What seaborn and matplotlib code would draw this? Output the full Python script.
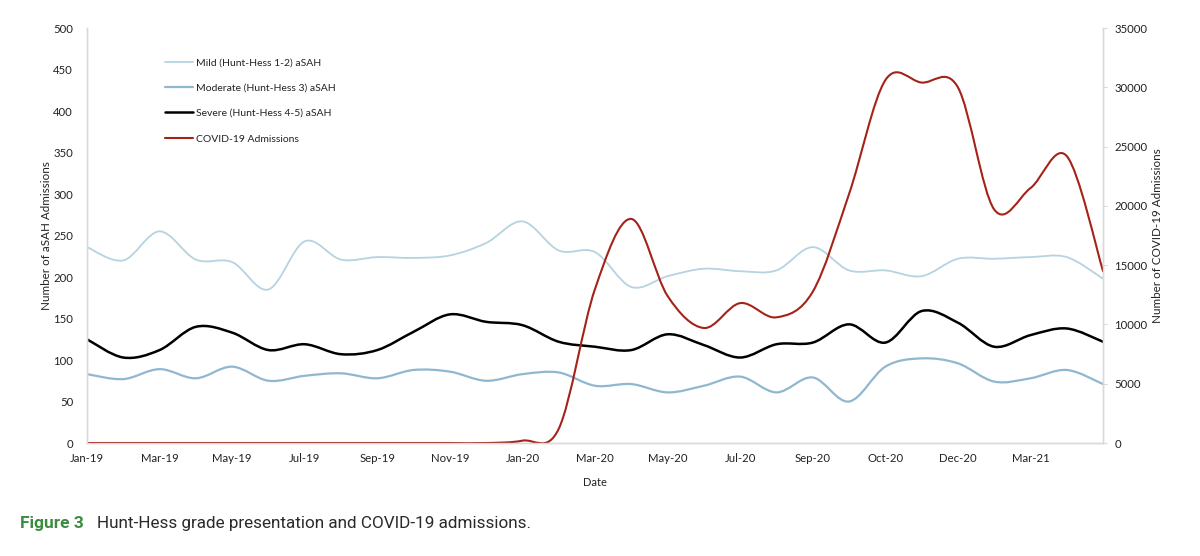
import matplotlib
matplotlib.use("Agg")
import matplotlib.pyplot as plt
import seaborn as sns
from matplotlib.path import Path
from matplotlib.patches import PathPatch
from matplotlib.lines import Line2D

# Monthly values (Jan-19 .. end of series)
tick_labels = ["Jan-19", "Mar-19", "May-19", "Jul-19", "Sep-19", "Nov-19", "Jan-20",
               "Mar-20", "May-20", "Jul-20", "Sep-20", "Oct-20", "Dec-20", "Mar-21"]

mild = [236, 220, 255, 221, 218, 185, 243, 221, 224, 223, 226, 241, 267, 232, 230,
        188, 201, 210, 207, 208, 236, 208, 208, 201, 222, 222, 224, 224, 198]
moderate = [83, 77, 89, 78, 92, 75, 81, 84, 78, 88, 86, 75, 83, 85, 69,
            71, 61, 69, 80, 61, 79, 50, 92, 102, 96, 74, 78, 88, 71]
severe = [125, 103, 112, 140, 133, 112, 119, 107, 112, 134, 155, 146, 142, 122, 116,
          112, 131, 118, 103, 119, 121, 143, 121, 159, 145, 116, 130, 138, 122]
covid = [0, 0, 0, 0, 0, 0, 0, 0, 0, 0, 0, 0, 200, 1200, 13000,
         18900, 12400, 9700, 11800, 10600, 12760, 21000, 30600, 30400, 30000, 19700, 21500, 24200, 14500]

labels = ["Mild (Hunt-Hess 1-2) aSAH", "Moderate (Hunt-Hess 3) aSAH",
          "Severe (Hunt-Hess 4-5) aSAH", "COVID-19 Admissions"]
colors = ["#b5d3e1", "#8fb8d0", "#000000", "#a52219"]
widths = [1.3, 1.6, 1.8, 1.5]


def smooth_path(ys):
    # Excel style smoothed line: cubic bezier through each point
    xs = list(range(len(ys)))
    n = len(ys)
    verts = [(xs[0], ys[0])]
    codes = [Path.MOVETO]
    for i in range(n - 1):
        a = i - 1 if i > 0 else i
        d = i + 2 if i + 2 < n else i + 1
        c1 = (xs[i] + (xs[i + 1] - xs[a]) / 6, ys[i] + (ys[i + 1] - ys[a]) / 6)
        c2 = (xs[i + 1] - (xs[d] - xs[i]) / 6, ys[i + 1] - (ys[d] - ys[i]) / 6)
        verts += [c1, c2, (xs[i + 1], ys[i + 1])]
        codes += [Path.CURVE4] * 3
    return Path(verts, codes)


sns.set_theme(style="white")
plt.rcParams["font.family"] = ["Lato", "DejaVu Sans"]

fig = plt.figure(figsize=(12, 5.56), dpi=100)
ax = fig.add_axes([0.0725, 0.2032, 0.8467, 0.7464])
ax2 = ax.twinx()

series = [mild, moderate, severe]
for vals, c, w in zip(series, colors[:3], widths[:3]):
    ax.add_patch(PathPatch(smooth_path(vals), fill=False, edgecolor=c, lw=w, capstyle="round"))
ax2.add_patch(PathPatch(smooth_path(covid), fill=False, edgecolor=colors[3], lw=widths[3], capstyle="round"))

n = len(mild)
ax.set_xlim(0, n - 1)
ax.set_ylim(0, 500)
ax2.set_ylim(0, 35000)
ax.set_yticks(range(0, 501, 50))
ax2.set_yticks(range(0, 35001, 5000))
ax.set_xticks(range(0, 2 * len(tick_labels), 2))
ax.set_xticklabels(tick_labels)

for a in (ax, ax2):
    for s in a.spines.values():
        s.set_color("#d9d9d9")
        s.set_linewidth(1.0)
    a.spines["top"].set_visible(False)
    a.grid(False)

ax.tick_params(axis="x", length=0, pad=7, labelsize=8.2, colors="#222222")
ax.tick_params(axis="y", length=0, pad=10, labelsize=8.2, colors="#222222")
ax2.tick_params(axis="y", length=3, width=0.8, color="#d9d9d9", pad=5, labelsize=8.2,
                labelcolor="#222222")

ax.set_xlabel("Date", fontsize=8, color="#222222")
ax.xaxis.set_label_coords(0.5, -0.082)
ax.set_ylabel("Number of aSAH Admissions", fontsize=8.4, color="#222222")
ax.yaxis.set_label_coords(-0.034, 0.5)
ax2.set_ylabel("Number of COVID-19 Admissions", fontsize=8.4, color="#222222")
ax2.yaxis.set_label_coords(1.048, 0.5)

handles = [Line2D([0], [0], color=c, lw=w) for c, w in zip(colors, widths)]
ax2.legend(handles, labels, loc="upper left", bbox_to_anchor=(0.0768, 0.928),
           frameon=False, fontsize=7.5, handlelength=2.7, handletextpad=0.25,
           labelspacing=1.55, borderpad=0, borderaxespad=0, labelcolor="#222222")

fig.text(0.017, 0.058, "Figure 3", fontsize=12.5, fontweight="bold", color="#3c8c40",
         family=["Roboto", "DejaVu Sans"], va="center")
fig.text(0.081, 0.058, "Hunt-Hess grade presentation and COVID-19 admissions.", fontsize=12.3,
         color="#2a2a2a", family=["Roboto", "DejaVu Sans"], va="center")

fig.savefig("out.png", dpi=100)
